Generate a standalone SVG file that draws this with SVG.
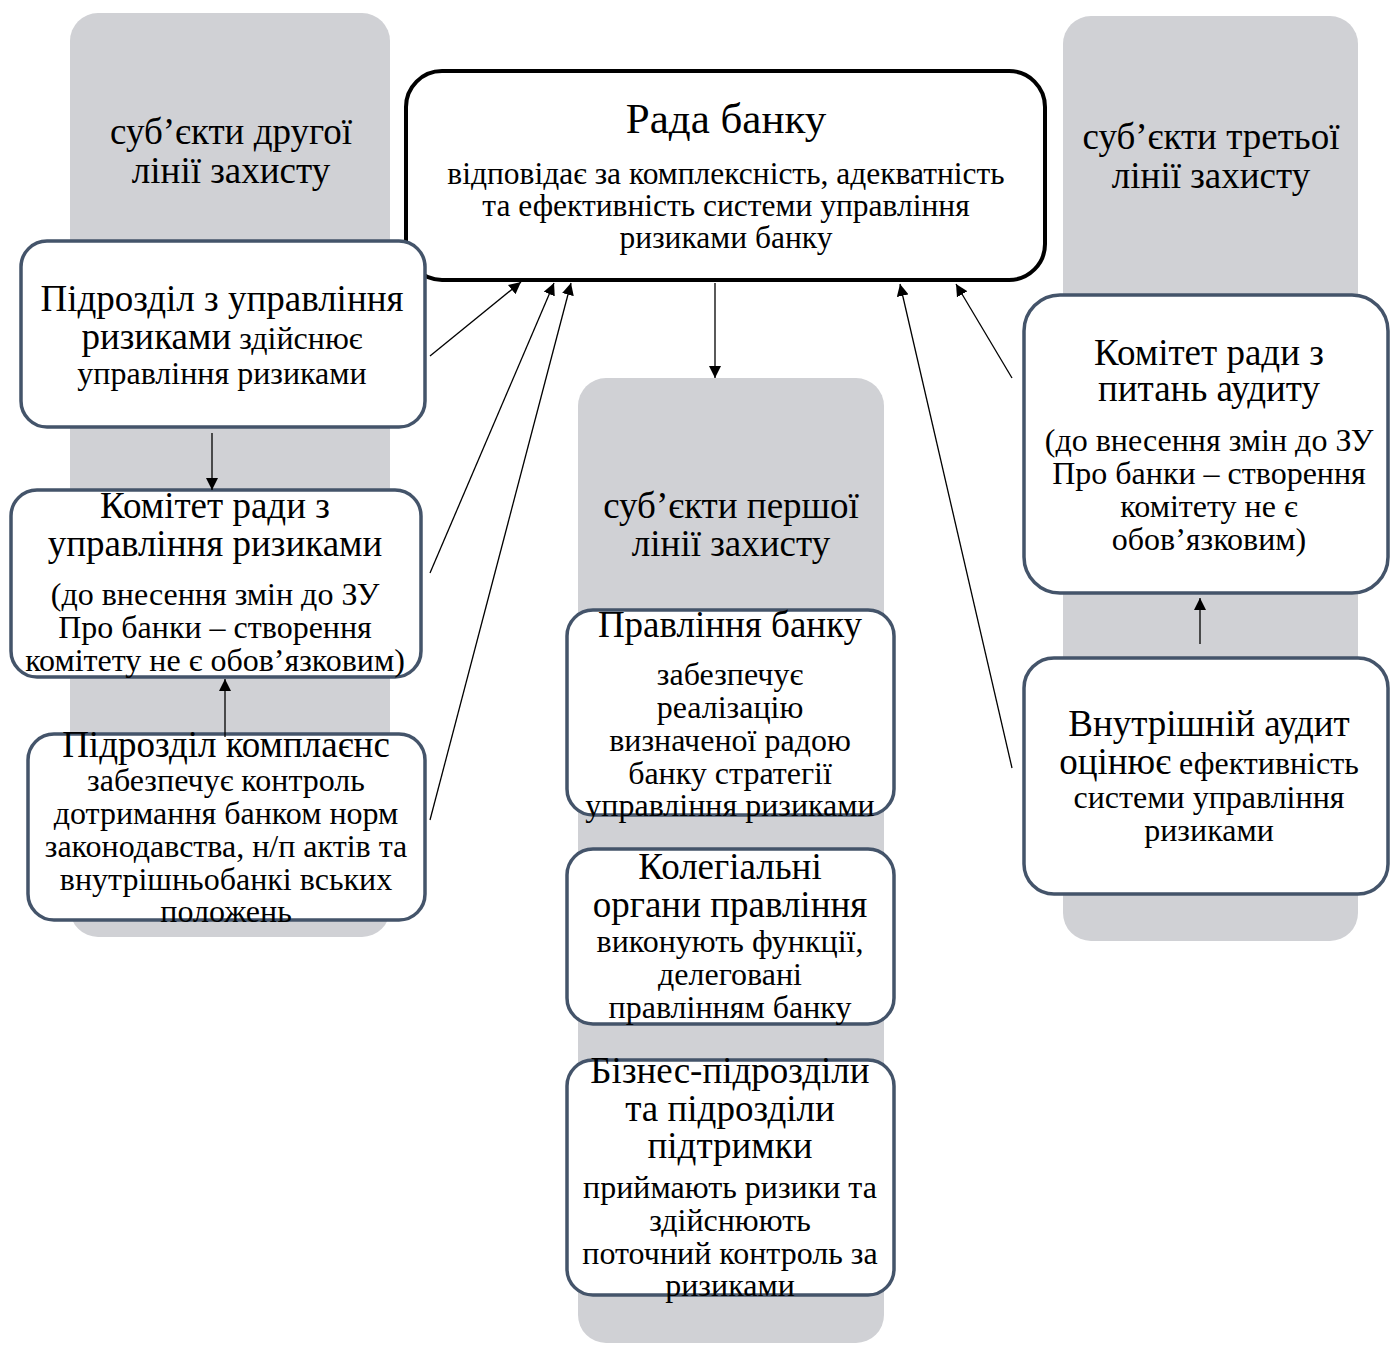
<svg xmlns="http://www.w3.org/2000/svg" width="1390" height="1345" viewBox="0 0 1390 1345">
<style>
text{font-family:"Liberation Serif","Times New Roman",serif;fill:#000;text-anchor:middle}
.col{fill:#D0D1D5}
.box{fill:#fff;stroke:#44546A;stroke-width:3.5}
.rada{fill:#fff;stroke:#000;stroke-width:4}
.t{font-size:37px}
.h{font-size:37px}
.b{font-size:32px}
.s{font-size:31.5px}
.c{stroke:#000;stroke-width:1.3;fill:none;marker-end:url(#ah)}
</style>
<defs>
<marker id="ah" viewBox="0 0 10 10" refX="10" refY="5" markerWidth="12" markerHeight="12" markerUnits="userSpaceOnUse" orient="auto">
<path d="M0,0 L10,5 L0,10 z" fill="#000"/>
</marker>
</defs>
<rect width="1390" height="1345" fill="#fff"/>

<g id="col-second">
<rect class="col" x="70" y="13" width="320" height="924" rx="28"/>
<text class="t" x="231" y="144">суб’єкти другої</text>
<text class="t" x="231" y="183">лінії захисту</text>
</g>
<g id="col-first">
<rect class="col" x="578" y="378" width="306" height="965" rx="28"/>
<text class="t" x="731" y="518">суб’єкти першої</text>
<text class="t" x="731" y="556">лінії захисту</text>
</g>
<g id="col-third">
<rect class="col" x="1063" y="16" width="295" height="925" rx="28"/>
<text class="t" x="1211" y="149">суб’єкти третьої</text>
<text class="t" x="1211" y="188">лінії захисту</text>
</g>

<g id="rada">
<rect class="rada" x="406" y="71" width="639" height="209" rx="36"/>
<text style="font-size:43px" x="726" y="133">Рада банку</text>
<text class="s" x="726" y="184">відповідає за комплексність, адекватність</text>
<text class="s" x="726" y="216">та ефективність системи управління</text>
<text class="s" x="726" y="248">ризиками банку</text>
</g>

<g id="risk-unit">
<rect class="box" x="21" y="241" width="404" height="186" rx="26"/>
<text class="h" x="222" y="311">Підрозділ з управління</text>
<text x="222" y="349"><tspan class="h">ризиками</tspan><tspan class="b"> здійснює</tspan></text>
<text class="b" x="222" y="384">управління ризиками</text>
</g>

<g id="risk-committee">
<rect class="box" x="11" y="490" width="410" height="187" rx="26"/>
<text class="h" x="215" y="518">Комітет ради з</text>
<text class="h" x="215" y="556">управління ризиками</text>
<text class="b" x="215" y="605">(до внесення змін до ЗУ</text>
<text class="b" x="215" y="638">Про банки – створення</text>
<text class="b" x="215" y="671">комітету не є обов’язковим)</text>
</g>

<g id="compliance">
<rect class="box" x="28" y="734" width="397" height="186" rx="26"/>
<text class="h" x="226" y="757">Підрозділ комплаєнс</text>
<text class="b" x="226" y="791">забезпечує контроль</text>
<text class="b" x="226" y="824">дотримання банком норм</text>
<text class="b" x="226" y="857">законодавства, н/п актів та</text>
<text class="b" x="226" y="890">внутрішньобанкі вських</text>
<text class="b" x="226" y="922">положень</text>
</g>

<g id="board">
<rect class="box" x="567" y="610" width="327" height="205" rx="26"/>
<text class="h" x="730" y="637">Правління банку</text>
<text class="b" x="730" y="685">забезпечує</text>
<text class="b" x="730" y="718">реалізацію</text>
<text class="b" x="730" y="751">визначеної радою</text>
<text class="b" x="730" y="784">банку стратегії</text>
<text class="b" x="730" y="816">управління ризиками</text>
</g>

<g id="collegial">
<rect class="box" x="567" y="849" width="327" height="175" rx="26"/>
<text class="h" x="730" y="879">Колегіальні</text>
<text class="h" x="730" y="917">органи правління</text>
<text class="b" x="730" y="952">виконують функції,</text>
<text class="b" x="730" y="985">делеговані</text>
<text class="b" x="730" y="1018">правлінням банку</text>
</g>

<g id="business">
<rect class="box" x="567" y="1060" width="327" height="235" rx="26"/>
<text class="h" x="730" y="1083">Бізнес-підрозділи</text>
<text class="h" x="730" y="1121">та підрозділи</text>
<text class="h" x="730" y="1158">підтримки</text>
<text class="b" x="730" y="1198">приймають ризики та</text>
<text class="b" x="730" y="1231">здійснюють</text>
<text class="b" x="730" y="1264">поточний контроль за</text>
<text class="b" x="730" y="1296">ризиками</text>
</g>

<g id="audit-committee">
<rect class="box" x="1024" y="295" width="364" height="298" rx="36"/>
<text class="h" x="1209" y="365">Комітет ради з</text>
<text class="h" x="1209" y="401">питань аудиту</text>
<text class="b" x="1209" y="451">(до внесення змін до ЗУ</text>
<text class="b" x="1209" y="484">Про банки – створення</text>
<text class="b" x="1209" y="517">комітету не є</text>
<text class="b" x="1209" y="550">обов’язковим)</text>
</g>

<g id="internal-audit">
<rect class="box" x="1024" y="658" width="364" height="236" rx="30"/>
<text class="h" x="1209" y="736">Внутрішній аудит</text>
<text x="1209" y="774"><tspan class="h">оцінює</tspan><tspan class="b"> ефективність</tspan></text>
<text class="b" x="1209" y="808">системи управління</text>
<text class="b" x="1209" y="841">ризиками</text>
</g>

<g id="connectors">
<line class="c" x1="430" y1="356" x2="521" y2="282"/>
<line class="c" x1="430" y1="573" x2="554" y2="283"/>
<line class="c" x1="430" y1="820" x2="571" y2="283"/>
<line class="c" x1="715" y1="283" x2="715" y2="378"/>
<line class="c" x1="1012" y1="768" x2="900" y2="284"/>
<line class="c" x1="1012" y1="378" x2="956" y2="284"/>
<line class="c" x1="212" y1="433" x2="212" y2="490"/>
<line class="c" x1="225" y1="737" x2="225" y2="679"/>
<line class="c" x1="1200" y1="644" x2="1200" y2="598"/>
</g>
</svg>
